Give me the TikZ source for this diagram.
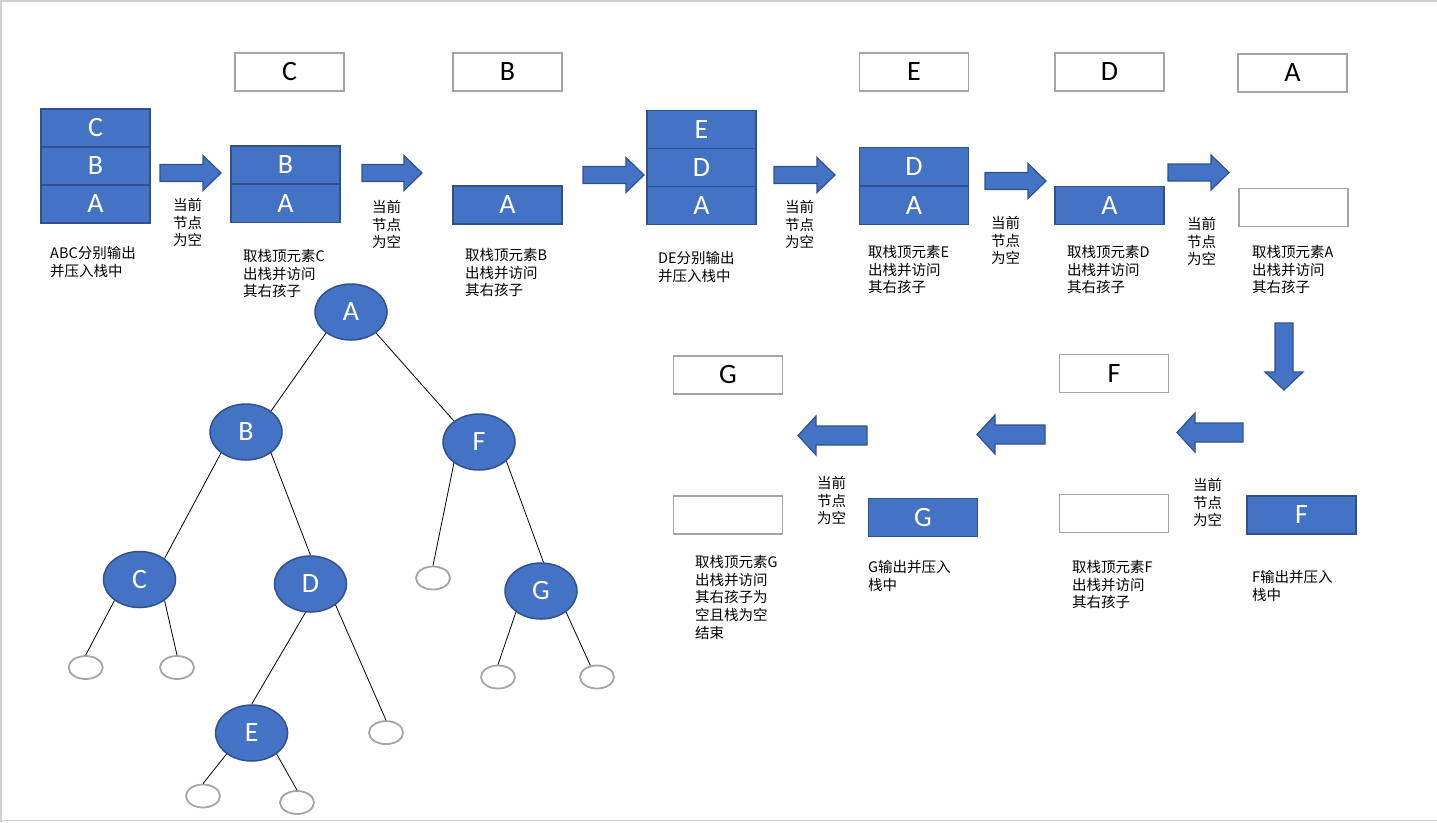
\documentclass[tikz,border=0pt]{standalone}
\usepackage{fontspec}
\usetikzlibrary{shapes.geometric}
\newfontfamily\cjkfont{Noto Sans CJK SC}
\newfontfamily\latfont{Carlito}
\definecolor{bblue}{HTML}{4472C4}
\definecolor{bdark}{HTML}{2F528F}
\definecolor{bgray}{HTML}{A5A5A5}
\definecolor{frame}{HTML}{D0D0D0}
\newcommand{\myblockarrow}[6]{%
  \path[blockarrow, shift={(#1,#2)}, rotate=#3] (0,-#5) -- ({#4-18},-#5) -- ({#4-18},-#6) -- (#4,0) -- ({#4-18},#6) -- ({#4-18},#5) -- (0,#5) -- cycle;}
\tikzset{
  bluecell/.style={draw=bdark, fill=bblue, line width=1.5pt, minimum width=109pt, minimum height=38pt, inner sep=0pt, text=white, font=\latfont\fontsize{28}{28}\selectfont},
  graycell/.style={draw=bgray, fill=white, line width=1.8pt, minimum width=109pt, minimum height=38pt, inner sep=0pt, text=black, font=\latfont\fontsize{28}{28}\selectfont},
  tnode/.style={ellipse, draw=bdark, fill=bblue, line width=1.5pt, minimum width=72pt, minimum height=56pt, inner sep=0pt, text=white, font=\latfont\fontsize{28}{28}\selectfont},
  leaf/.style={ellipse, draw=bgray, fill=white, line width=1.8pt, minimum width=34pt, minimum height=23pt, inner sep=0pt},
  treeedge/.style={draw=black, line width=0.8pt},
  note/.style={anchor=north west, inner sep=0pt, align=left, text=black, font=\cjkfont\fontsize{14.5}{17.7}\selectfont},
  blockarrow/.style={fill=bblue, draw=bdark, line width=1.2pt},
  pageframe/.style={draw=frame, line width=1.6pt}
}
\begin{document}
\begin{tikzpicture}[x=1pt, y=-1pt]
\useasboundingbox (0,0) rectangle (1437,822);
\fill[white] (0,0) rectangle (1437,822);
\draw[pageframe] (0,1) -- (1437,1);
\draw[pageframe] (1,0) -- (1,822);
\draw[pageframe] (0,820.5) -- (1437,820.5);

% ---- top row: stacks ----
\node[bluecell] (s1c) at (95.5,128) {C};
\node[bluecell] (s1b) at (95.5,166) {B};
\node[bluecell] (s1a) at (95.5,204) {A};

\node[graycell] (o1) at (289.5,72) {C};
\node[bluecell] (s2b) at (285.5,165) {B};
\node[bluecell] (s2a) at (285.5,203.5) {A};

\node[graycell] (o2) at (507.5,72) {B};
\node[bluecell] (s3a) at (507.5,205) {A};

\node[bluecell] (s4e) at (701.5,129.7) {E};
\node[bluecell] (s4d) at (701.5,167.7) {D};
\node[bluecell] (s4a) at (701.5,205.7) {A};

\node[graycell] (o3) at (914,71.7) {E};
\node[bluecell] (s5d) at (914,166.7) {D};
\node[bluecell] (s5a) at (914,205.5) {A};

\node[graycell] (o4) at (1109.5,72) {D};
\node[bluecell] (s6a) at (1109.5,205.5) {A};

\node[graycell] (o5) at (1292.5,73) {A};
\node[graycell] (s7) at (1293.5,207.5) {};

% ---- top row arrows ----
\myblockarrow{160}{173}{0}{61}{8.5}{17.5}
\myblockarrow{362}{173}{0}{60}{8.5}{17.5}
\myblockarrow{583}{175}{0}{61}{8.5}{17.5}
\myblockarrow{774}{175}{0}{61}{8.5}{17.5}
\myblockarrow{985}{181}{0}{61}{8.5}{17.5}
\myblockarrow{1168}{172.5}{0}{61}{8.5}{17.5}
\myblockarrow{1284}{323}{-90}{67}{9}{19}

% ---- top row notes ----
\node[note] (t1) at (50,246) {ABC分别输出\\并压入栈中};
\node[note] (n1) at (173,198) {当前\\节点\\为空};
\node[note] (t2) at (243,249) {取栈顶元素C\\出栈并访问\\其右孩子};
\node[note] (n2) at (372,200) {当前\\节点\\为空};
\node[note] (t3) at (465,248) {取栈顶元素B\\出栈并访问\\其右孩子};
\node[note] (t4) at (658,251) {DE分别输出\\并压入栈中};
\node[note] (n4) at (785,200) {当前\\节点\\为空};
\node[note] (t5) at (868,245) {取栈顶元素E\\出栈并访问\\其右孩子};
\node[note] (n5) at (991,216) {当前\\节点\\为空};
\node[note] (t6) at (1067,245) {取栈顶元素D\\出栈并访问\\其右孩子};
\node[note] (n6) at (1187,217) {当前\\节点\\为空};
\node[note] (t7) at (1252,245) {取栈顶元素A\\出栈并访问\\其右孩子};

% ---- bottom row ----
\node[graycell] (o7) at (728,375) {G};
\node[graycell] (e7) at (728,515) {};
\node[bluecell] (s8g) at (923,517.5) {G};
\node[graycell] (o6) at (1114,373.5) {F};
\node[graycell] (e6) at (1114,513.5) {};
\node[bluecell] (s9f) at (1301.5,515) {F};

\myblockarrow{1243}{432.5}{180}{66}{9.5}{19.5}
\myblockarrow{1045}{434.5}{180}{68}{9.5}{19.5}
\myblockarrow{867}{435.5}{180}{69}{9.5}{19.5}

\node[note] (n7) at (1193,478) {当前\\节点\\为空};
\node[note] (t8) at (1252,570) {F输出并压入\\栈中};
\node[note] (t9) at (1072,560) {取栈顶元素F\\出栈并访问\\其右孩子};
\node[note] (n9) at (817,476) {当前\\节点\\为空};
\node[note] (t10) at (868,560) {G输出并压入\\栈中};
\node[note] (t11) at (695,555) {取栈顶元素G\\出栈并访问\\其右孩子为\\空且栈为空\\结束};

% ---- tree ----
\node[tnode] (A) at (351,312) {A};
\node[tnode] (B) at (246,432) {B};
\node[tnode] (C) at (139.5,579.5) {C};
\node[tnode] (D) at (310.5,584) {D};
\node[tnode] (E) at (251.6,733) {E};
\node[tnode] (F) at (479,442) {F};
\node[tnode] (G) at (541,591) {G};
\node[leaf] (cl) at (85.7,667.5) {};
\node[leaf] (cr) at (177,667.5) {};
\node[leaf] (fl) at (433,578) {};
\node[leaf] (el) at (203,796) {};
\node[leaf] (er) at (297,802.5) {};
\node[leaf] (dr) at (386,732.6) {};
\node[leaf] (gl) at (498,677) {};
\node[leaf] (gr) at (597,677) {};

\draw[treeedge] (A.220) -- (B.40);
\draw[treeedge] (A.320) -- (F.140);
\draw[treeedge] (B.220) -- (C.40);
\draw[treeedge] (B.320) -- (D.north);
\draw[treeedge] (C.220) -- (cl.north);
\draw[treeedge] (C.320) -- (cr.north);
\draw[treeedge] (D.260) -- (E.north);
\draw[treeedge] (D.320) -- (dr.north);
\draw[treeedge] (E.220) -- (el.north);
\draw[treeedge] (E.320) -- (er.north);
\draw[treeedge] (F.220) -- (fl.north);
\draw[treeedge] (F.325) -- (G.85);
\draw[treeedge] (G.220) -- (gl.north);
\draw[treeedge] (G.320) -- (gr.120);
\end{tikzpicture}
\end{document}
